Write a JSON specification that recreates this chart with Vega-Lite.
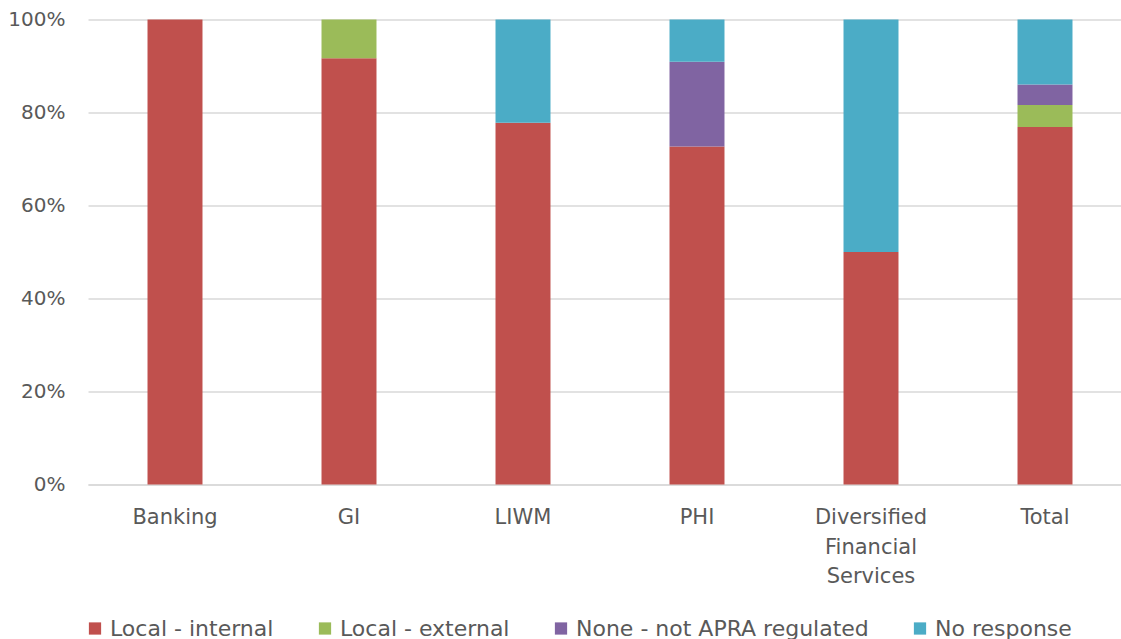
{
  "$schema": "https://vega.github.io/schema/vega-lite/v6.json",
  "width": 1044,
  "height": 465,
  "autosize": "none",
  "padding": {"left": 88, "top": 19.5, "right": 0, "bottom": 154.5},
  "background": "white",
  "config": {
    "view": {"stroke": null},
    "font": "DejaVu Sans",
    "axis": {"labelFont": "DejaVu Sans", "labelColor": "#595959"},
    "legend": {"labelFont": "DejaVu Sans", "labelColor": "#595959"}
  },
  "data": {
    "values": [
      {"sector": "Banking", "series": "Local - internal", "o": 1, "v": 100},
      {"sector": "GI", "series": "Local - internal", "o": 1, "v": 91.67},
      {"sector": "GI", "series": "Local - external", "o": 2, "v": 8.33},
      {"sector": "LIWM", "series": "Local - internal", "o": 1, "v": 77.8},
      {"sector": "LIWM", "series": "No response", "o": 4, "v": 22.2},
      {"sector": "PHI", "series": "Local - internal", "o": 1, "v": 72.7},
      {"sector": "PHI", "series": "None - not APRA regulated", "o": 3, "v": 18.2},
      {"sector": "PHI", "series": "No response", "o": 4, "v": 9.1},
      {"sector": "Diversified Financial Services", "series": "Local - internal", "o": 1, "v": 50},
      {"sector": "Diversified Financial Services", "series": "No response", "o": 4, "v": 50},
      {"sector": "Total", "series": "Local - internal", "o": 1, "v": 76.9},
      {"sector": "Total", "series": "Local - external", "o": 2, "v": 4.7},
      {"sector": "Total", "series": "None - not APRA regulated", "o": 3, "v": 4.4},
      {"sector": "Total", "series": "No response", "o": 4, "v": 14.0}
    ]
  },
  "mark": {"type": "bar"},
  "encoding": {
    "x": {
      "field": "sector",
      "type": "nominal",
      "sort": ["Banking", "GI", "LIWM", "PHI", "Diversified Financial Services", "Total"],
      "scale": {"paddingInner": 0.684, "paddingOuter": 0.342},
      "axis": {
        "title": null,
        "labelAngle": 0,
        "labelFontSize": 21,
        "labelPadding": 22,
        "labelLineHeight": 29.5,
        "labelExpr": "split(datum.label, ' ')",
        "ticks": false,
        "domainColor": "#d9d9d9",
        "domainWidth": 1.5,
        "grid": false
      }
    },
    "y": {
      "field": "v",
      "type": "quantitative",
      "stack": "normalize",
      "scale": {"domain": [0, 1]},
      "axis": {
        "title": null,
        "format": ".0%",
        "values": [0, 0.2, 0.4, 0.6, 0.8, 1],
        "labelFontSize": 20,
        "labelPadding": 23,
        "ticks": false,
        "domain": false,
        "gridColor": "#d9d9d9",
        "gridWidth": 1.5
      }
    },
    "color": {
      "field": "series",
      "type": "nominal",
      "scale": {
        "domain": ["Local - internal", "Local - external", "None - not APRA regulated", "No response"],
        "range": ["#c0504d", "#9bbb59", "#8064a2", "#4bacc6"]
      },
      "legend": {
        "title": null,
        "orient": "none",
        "direction": "horizontal",
        "legendX": -4,
        "legendY": 598,
        "symbolType": "square",
        "symbolSize": 150,
        "labelFontSize": 22,
        "labelLimit": 0,
        "columnPadding": 40,
        "symbolStrokeWidth": 0,
        "labelOffset": 4
      }
    },
    "order": {"field": "o", "type": "quantitative"}
  }
}
